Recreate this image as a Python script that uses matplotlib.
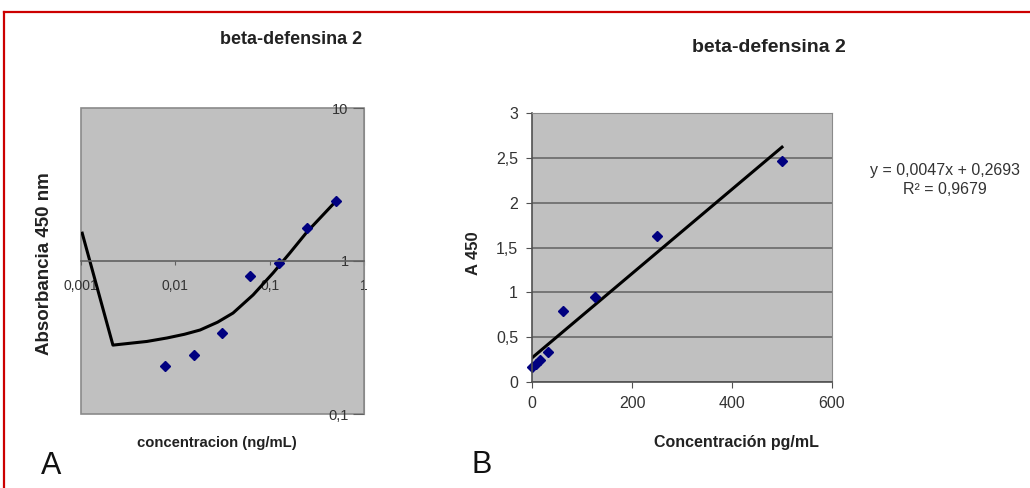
import matplotlib
matplotlib.use('Agg')
from matplotlib import pyplot as plt
from matplotlib.lines import Line2D
from matplotlib.patches import Rectangle

# standards: doubling dilutions, ng/mL (panel A) and pg/mL (panel B)
conc_ng = [0.0078, 0.0156, 0.03125, 0.0625, 0.125, 0.25, 0.5]
absorb_a = [0.206, 0.243, 0.339, 0.80, 0.97, 1.64, 2.47]

conc_pg = [0, 7.8, 15.6, 31.25, 62.5, 125, 250, 500]
absorb_b = [0.17, 0.20, 0.24, 0.33, 0.79, 0.95, 1.63, 2.46]

# polynomial trendline of panel A, as drawn
trend_x = [0.00103, 0.00218, 0.00500, 0.00817, 0.0125, 0.0183, 0.0280, 0.0409,
           0.0667, 0.1086, 0.164, 0.249, 0.482]
trend_y = [1.52, 0.282, 0.298, 0.314, 0.332, 0.354, 0.398, 0.457,
           0.600, 0.835, 1.13, 1.55, 2.39]

# linear trendline of panel B
slope = 0.0047
intercept = 0.2693
r2 = 0.9679

xticks_a = [0.001, 0.01, 0.1, 1]
xticklabels_a = ['0,001', '0,01', '0,1', '1']
yticks_a = [0.1, 1, 10]
yticklabels_a = ['0,1', '1', '10']
xticks_b = [0, 200, 400, 600]
yticks_b = [0, 0.5, 1, 1.5, 2, 2.5, 3]
yticklabels_b = ['0', '0,5', '1', '1,5', '2', '2,5', '3']

plt.rcParams['font.family'] = ['Liberation Sans', 'DejaVu Sans']

W, H = 1030, 488
fig = plt.figure(figsize=(W / 100, H / 100), dpi=100)
fig.patch.set_facecolor('white')

def fx(px):
    return px / W

def fy(py):
    return 1 - py / H

plot_bg = '#c0c0c0'
marker_col = '#000080'
txt_col = '#222222'

# ---------- panel A ----------
ax = fig.add_axes([fx(81), fy(414), fx(283), 306 / H])
ax.set_facecolor(plot_bg)
ax.set_xscale('log')
ax.set_yscale('log')
ax.set_xlim(0.001, 1)
ax.set_ylim(0.1, 10)
ax.plot(trend_x, trend_y, color='black', lw=2.2)
ax.plot(conc_ng, absorb_a, 'D', color=marker_col, ms=5.5, ls='none')

for s in ['top', 'left']:
    ax.spines[s].set_visible(False)
ax.add_patch(Rectangle((0, 0), 1, 1, transform=ax.transAxes, fill=False,
                       edgecolor='#8a8a8a', lw=1.2, clip_on=False))
ax.spines['bottom'].set_position(('data', 1))
ax.spines['bottom'].set_color('#606060')
ax.spines['bottom'].set_linewidth(1.2)
ax.spines['right'].set_color('#8a8a8a')

ax.xaxis.set_major_locator(plt.FixedLocator(xticks_a))
ax.xaxis.set_minor_locator(plt.NullLocator())
ax.set_xticklabels(xticklabels_a)
ax.tick_params(axis='x', direction='out', length=3, pad=10, labelsize=10,
               color='#606060', labelcolor='#333333')

ax.yaxis.tick_right()
ax.yaxis.set_major_locator(plt.FixedLocator(yticks_a))
ax.yaxis.set_minor_locator(plt.NullLocator())
ax.set_yticklabels(yticklabels_a)
ax.tick_params(axis='y', direction='in', length=8, pad=-11, labelsize=10.5,
               color='#606060', labelcolor='#333333')
for lbl in ax.get_yticklabels():
    lbl.set_horizontalalignment('right')

# ---------- panel B ----------
bx = fig.add_axes([fx(532), fy(382), fx(300), 269 / H])
bx.set_facecolor(plot_bg)
bx.set_xlim(0, 600)
bx.set_ylim(0, 3)
bx.set_axisbelow(True)
bx.yaxis.grid(True, color='#707070', lw=1.3)
line_x = [min(conc_pg), max(conc_pg)]
line_y = [slope * v + intercept for v in line_x]
bx.plot(line_x, line_y, color='black', lw=2.2)
bx.plot(conc_pg, absorb_b, 'D', color=marker_col, ms=5.5, ls='none', clip_on=False)

for s in ['top', 'right']:
    bx.spines[s].set_color('#8a8a8a')
for s in ['left', 'bottom']:
    bx.spines[s].set_color('#505050')
    bx.spines[s].set_linewidth(1.2)
bx.set_xticks(xticks_b)
bx.set_yticks(yticks_b)
bx.set_yticklabels(yticklabels_b)
bx.tick_params(direction='out', length=4, pad=6, labelsize=11.5,
               color='#505050', labelcolor='#333333')

# ---------- texts ----------
fig.text(fx(291), fy(40), 'beta-defensina 2', ha='center', va='center',
         fontsize=13, fontweight='bold', color=txt_col)
fig.text(fx(769), fy(47), 'beta-defensina 2', ha='center', va='center',
         fontsize=14, fontweight='bold', color=txt_col)
fig.text(fx(45), fy(264), 'Absorbancia 450 nm', ha='center', va='center',
         rotation=90, fontsize=13.5, fontweight='bold', color=txt_col)
fig.text(fx(217), fy(443), 'concentracion (ng/mL)', ha='center', va='center',
         fontsize=10.7, fontweight='bold', color=txt_col)
fig.text(fx(474), fy(253), 'A 450', ha='center', va='center', rotation=90,
         fontsize=12, fontweight='bold', color=txt_col)
fig.text(fx(736), fy(442), 'Concentración pg/mL', ha='center', va='center',
         fontsize=11.5, fontweight='bold', color=txt_col)
fig.text(fx(945), fy(171), f'y = {slope}x + {intercept}'.replace('.', ','),
         ha='center', va='center', fontsize=11.5, color='#333333')
fig.text(fx(945), fy(189), f'R² = {r2}'.replace('.', ','),
         ha='center', va='center', fontsize=11.5, color='#333333')
fig.text(fx(51), fy(466), 'A', ha='center', va='center', fontsize=22, color='#111111')
fig.text(fx(482), fy(465), 'B', ha='center', va='center', fontsize=22, color='#111111')

# red frame (top and left edges)
fig.add_artist(Line2D([fx(4), 1], [fy(12), fy(12)], color='#cc0000', lw=1.6))
fig.add_artist(Line2D([fx(4), fx(4)], [fy(12), 0], color='#cc0000', lw=1.6))

fig.savefig('out.png', dpi=100)
